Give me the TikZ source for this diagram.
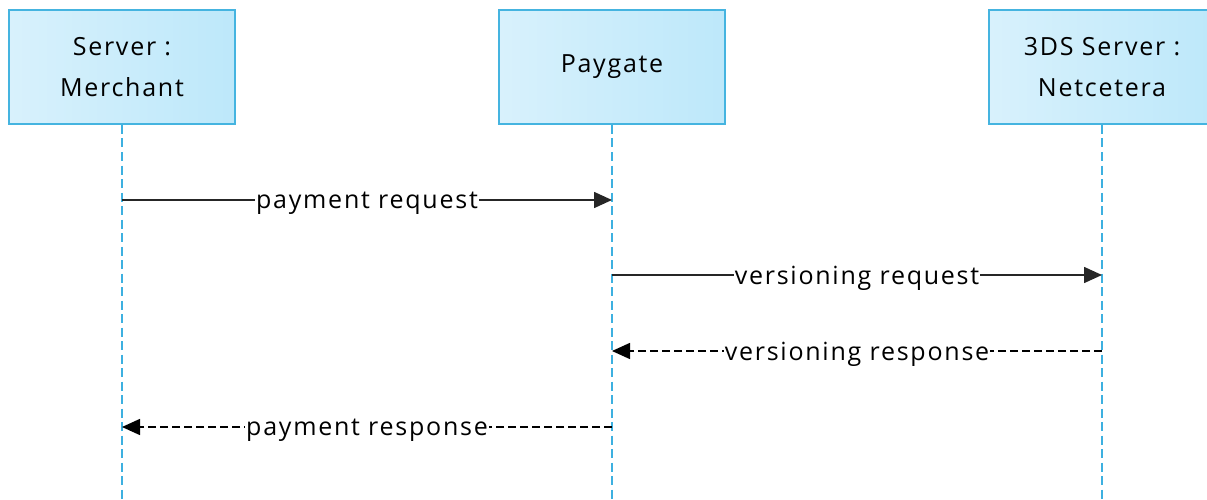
\documentclass[tikz,border=0pt]{standalone}
\usepackage{fontspec}
\setmainfont{Open Sans}[LetterSpace=7]
\usetikzlibrary{arrows.meta,calc}
\definecolor{boxborder}{HTML}{45B4E0}
\definecolor{boxleft}{HTML}{D8F1FC}
\definecolor{boxright}{HTML}{BDE8FA}
\definecolor{lifeblue}{HTML}{3DB0E0}
\tikzset{
  actor/.style={draw=boxborder, line width=2pt, left color=boxleft, right color=boxright,
    minimum width=226pt, minimum height=114pt, align=center, inner sep=0pt,
    font=\fontsize{25}{41}\selectfont},
  lifeline/.style={draw=lifeblue, line width=2.5pt, dash pattern=on 9pt off 4.5pt},
  msg/.style={draw=black!85, line width=1.6pt, -{Triangle[length=18pt,width=16pt]}},
  reply/.style={draw=black, line width=1.5pt, dash pattern=on 8pt off 4pt, -{Triangle[length=18pt,width=16pt]}},
  lbl/.style={fill=white, inner sep=1pt, yshift=-3pt, font=\fontsize{25}{28}\selectfont}
}
\begin{document}
\begin{tikzpicture}[x=1pt,y=-1pt]
\useasboundingbox (0,0) rectangle (1207,500);
\node[actor] (m) at (122,67) {Server :\\Merchant};
\node[actor] (p) at (612,67) {\raisebox{-3.5pt}{Paygate}};
\node[actor] (n) at (1102,67) {3DS Server :\\Netcetera};
\coordinate (me) at (122,500);
\coordinate (pe) at (612,500);
\coordinate (ne) at (1102,500);
\draw[lifeline] (m.south) -- (me);
\draw[lifeline] (p.south) -- (pe);
\draw[lifeline] (n.south) -- (ne);
\coordinate (m1) at (122,200); \coordinate (p1) at (612,200);
\coordinate (p2) at (612,275); \coordinate (n2) at (1102,275);
\coordinate (n3) at (1102,351); \coordinate (p3) at (612,351);
\coordinate (p4) at (612,427); \coordinate (m4) at (122,427);
\draw[msg] (m1) -- (p1);
\node[lbl] (l1) at ($(m1)!0.5!(p1)$) {payment request};
\draw[msg] (p2) -- (n2);
\node[lbl] (l2) at ($(p2)!0.5!(n2)$) {versioning request};
\draw[reply] (n3) -- (p3);
\node[lbl] (l3) at ($(n3)!0.5!(p3)$) {versioning response};
\draw[reply] (p4) -- (m4);
\node[lbl] (l4) at ($(p4)!0.5!(m4)$) {payment response};
\end{tikzpicture}
\end{document}
